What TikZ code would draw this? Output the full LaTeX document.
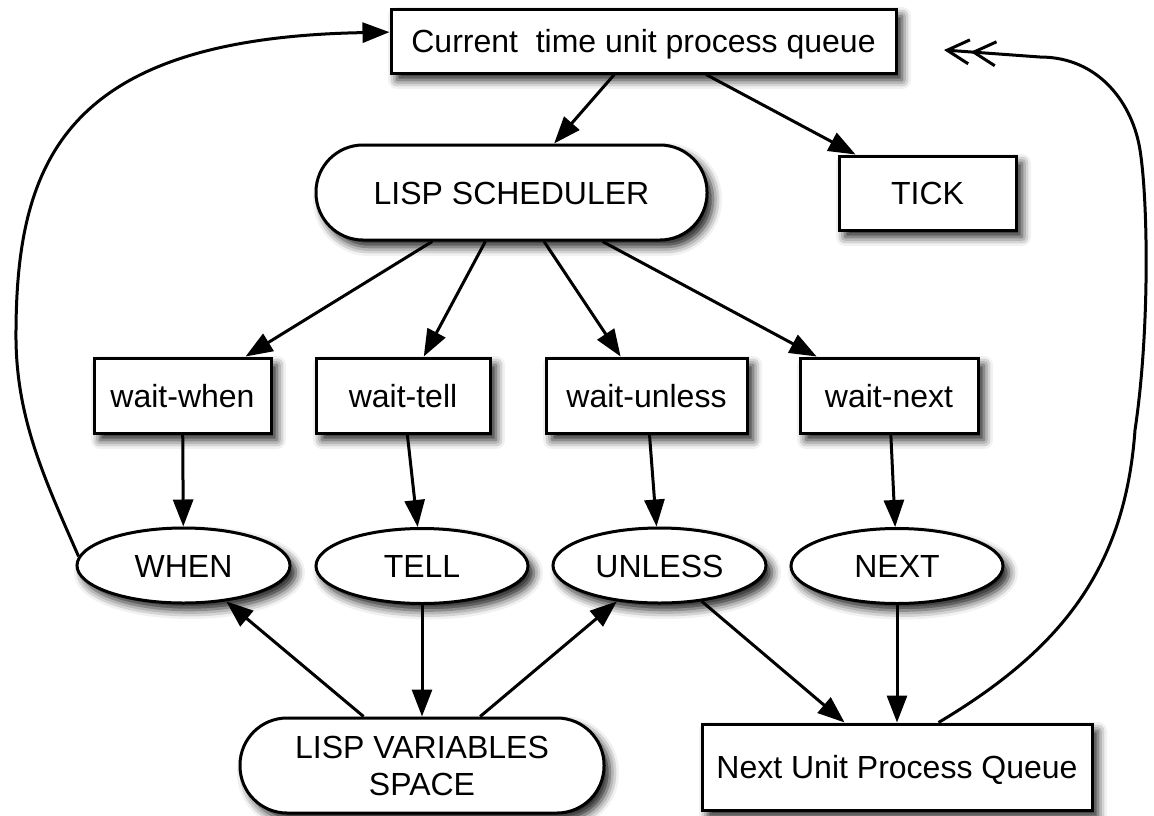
\documentclass[tikz,border=0pt]{standalone}
\usepackage{fontspec}
\setmainfont{Liberation Sans}
\usetikzlibrary{arrows.meta,shapes.geometric,shadows.blur}
\begin{document}
\begin{tikzpicture}[x=1pt,y=-1pt,
  every node/.style={font=\fontsize{32}{37}\selectfont, line width=3pt, draw, fill=white,
    inner sep=0pt, text height=23pt, text depth=0pt,
    blur shadow={shadow xshift=6pt, shadow yshift=-7pt, shadow blur radius=9pt, shadow opacity=90}},
  box/.style={rectangle},
  pill/.style={rectangle, rounded corners=47pt},
  oval/.style={ellipse},
  conn/.style={line width=3pt, -{Triangle[length=27pt,width=20pt]}},
  back/.style={line width=3pt, -{Straight Barb[length=22pt,width=24pt] Straight Barb[length=22pt,width=24pt]}},
]
\useasboundingbox (0,0) rectangle (1154,815);

\node[box, minimum width=505pt, minimum height=64pt] (cur) at (643.5,41) {Current\ \ time unit process queue};
\node[pill, minimum width=391pt, minimum height=95pt] (sched) at (511.5,192.5) {LISP SCHEDULER};
\node[box, minimum width=177pt, minimum height=74pt] (tick) at (927.5,193) {TICK};

\node[box, minimum width=177pt, minimum height=75pt] (ww) at (182.5,395.5) {wait-when};
\node[box, minimum width=174pt, minimum height=75pt] (wt) at (403,395.5) {wait-tell};
\node[box, minimum width=201pt, minimum height=75pt] (wu) at (646.5,395.5) {wait-unless};
\node[box, minimum width=178pt, minimum height=75pt] (wn) at (889,395.5) {wait-next};

\node[oval, minimum width=213pt, minimum height=75pt] (when) at (183.5,565.5) {WHEN};
\node[oval, minimum width=212pt, minimum height=75pt] (tell) at (422,566) {TELL};
\node[oval, minimum width=213pt, minimum height=75pt] (unless) at (659.5,565.5) {UNLESS};
\node[oval, minimum width=212pt, minimum height=75pt] (next) at (897,566) {NEXT};

\node[pill, minimum width=364pt, minimum height=95pt, align=center, text height=60pt] (vars) at (422,765.5) {LISP VARIABLES\\SPACE};
\node[box, minimum width=390pt, minimum height=86pt] (nuq) at (897,767) {Next Unit Process Queue};

\draw[conn] (cur) -- (sched);
\draw[conn] (cur) -- (tick);
\draw[conn] (sched) -- (ww);
\draw[conn] (sched) -- (wt);
\draw[conn] (sched) -- (wu);
\draw[conn] (sched) -- (wn);
\draw[conn] (ww) -- (when);
\draw[conn] (wt) -- (tell);
\draw[conn] (wu) -- (unless);
\draw[conn] (wn) -- (next);
\draw[conn] (vars) -- (when);
\draw[conn] (tell) -- (vars);
\draw[conn] (vars) -- (unless);
\draw[conn] (unless) -- (nuq);
\draw[conn] (next) -- (nuq);

\draw[conn] (when.175) .. controls (45,480) and (17,420) .. (16,340)
  .. controls (15,160) and (65,38) .. (cur.178);

\coordinate (rtip) at (944,50);
\draw[back] (nuq.47) .. controls (1060,650) and (1125,570) .. (1135,430)
  .. controls (1150,330) and (1148,200) .. (1140,150)
  .. controls (1133,105) and (1100,57) .. (1040,57) -- (rtip);
\end{tikzpicture}
\end{document}
